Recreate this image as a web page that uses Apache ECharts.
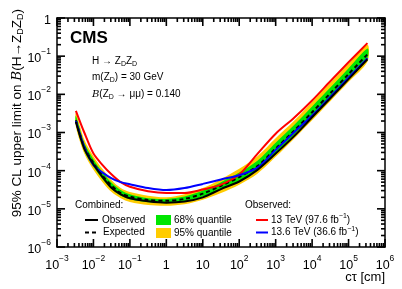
<!DOCTYPE html>
<html><head><meta charset="utf-8">
<script src="https://cdn.jsdelivr.net/npm/echarts@6/dist/echarts.min.js"></script>
<style>html,body{margin:0;padding:0;background:#fff}#c{width:402px;height:289px}</style>
</head><body><div id="c"></div>
<script>
// c tau [cm] sample positions
const ctau = [0.0033, 0.0056, 0.01, 0.0178, 0.0316, 0.056, 0.1, 0.316, 1, 3.16, 10, 31.6, 100, 316, 1000, 3160, 1e4, 3.16e4, 1e5, 3.3e5];
// Observed combined (solid black)
const observed = [1.9e-3, 3.8e-4, 1.48e-4, 6.8e-5, 3.5e-5, 2.4e-5, 1.9e-5, 1.58e-5, 1.45e-5, 1.55e-5, 2.0e-5, 3.3e-5, 5.2e-5, 1.05e-4, 2.8e-4, 7.9e-4, 2.5e-3, 7.9e-3, 2.5e-2, 8.3e-2];
// Expected combined (dashed black)
const expected = [2.1e-3, 4.2e-4, 1.58e-4, 7.4e-5, 4.0e-5, 2.6e-5, 2.1e-5, 1.7e-5, 1.62e-5, 1.82e-5, 2.5e-5, 4.0e-5, 6.8e-5, 1.32e-4, 3.8e-4, 1.1e-3, 3.4e-3, 1.07e-2, 3.4e-2, 0.112];
// 68% quantile band
const band68Up = [2.7e-3, 5.4e-4, 2.0e-4, 9.1e-5, 4.8e-5, 3.1e-5, 2.4e-5, 1.9e-5, 1.82e-5, 2.1e-5, 3.0e-5, 5.0e-5, 8.9e-5, 1.82e-4, 5.4e-4, 1.55e-3, 4.8e-3, 1.5e-2, 4.8e-2, 0.158];
const band68Lo = [1.66e-3, 3.3e-4, 1.26e-4, 6.0e-5, 3.3e-5, 2.2e-5, 1.78e-5, 1.48e-5, 1.41e-5, 1.55e-5, 2.1e-5, 3.2e-5, 5.2e-5, 1.02e-4, 2.9e-4, 8.5e-4, 2.7e-3, 8.5e-3, 2.7e-2, 8.9e-2];
// 95% quantile band
const band95Up = [3.2e-3, 6.6e-4, 2.4e-4, 1.1e-4, 5.6e-5, 3.5e-5, 2.75e-5, 2.2e-5, 2.0e-5, 2.4e-5, 3.5e-5, 6.0e-5, 1.12e-4, 2.4e-4, 7.1e-4, 2.0e-3, 6.3e-3, 2.0e-2, 6.3e-2, 0.2];
const band95Lo = [1.41e-3, 2.8e-4, 1.05e-4, 5.0e-5, 2.75e-5, 1.9e-5, 1.51e-5, 1.26e-5, 1.2e-5, 1.32e-5, 1.74e-5, 2.6e-5, 4.3e-5, 8.3e-5, 2.3e-4, 6.8e-4, 2.1e-3, 6.6e-3, 2.1e-2, 7.1e-2];
// Observed 13 TeV (red)
const obs13 = [3.7e-3, 1.0e-3, 2.8e-4, 1.4e-4, 7.9e-5, 5.0e-5, 3.8e-5, 2.9e-5, 2.6e-5, 2.6e-5, 3.2e-5, 4.3e-5, 7.9e-5, 2.75e-4, 9.3e-4, 2.4e-3, 6.9e-3, 2.2e-2, 6.9e-2, 0.22];
// Observed 13.6 TeV (blue)
const obs136 = [2.0e-3, 4.2e-4, 1.4e-4, 8.9e-5, 6.3e-5, 5.0e-5, 4.4e-5, 3.5e-5, 3.1e-5, 3.5e-5, 4.5e-5, 5.9e-5, 7.6e-5, 1.2e-4, 3.5e-4, 1.0e-3, 2.8e-3, 8.7e-3, 2.75e-2, 8.9e-2];

const xTickExp = [-3, -2, -1, 0, 1, 2, 3, 4, 5, 6];
const yTickExp = [-6, -5, -4, -3, -2, -1, 0];

const FONT = 'Liberation Sans, Arial, sans-serif';
const pairs = (ys) => ctau.map((x, i) => [x, ys[i]]);

function expLabel(v) {
  const e = Math.round(Math.log10(v));
  if (e === 0) return '{b|1}';
  if (e === 1) return '{b|10}';
  return '{b|10}{s|' + (e < 0 ? '\u2212' + (-e) : e) + '}';
}
const labelRich = {
  b: { fontSize: 12.5, lineHeight: 18, verticalAlign: 'bottom', fontFamily: FONT, color: '#000' },
  s: { fontSize: 8.5, lineHeight: 11, verticalAlign: 'top', fontFamily: FONT, color: '#000' }
};

// tick positions on the log axes (decoration only)
const majorX = xTickExp.map(e => Math.pow(10, e));
const majorY = yTickExp.map(e => Math.pow(10, e));
const minorX = [], minorY = [];
for (let e = -3; e < 6; e++) for (let m = 2; m <= 9; m++) minorX.push(m * Math.pow(10, e));
for (let e = -6; e < 0; e++) for (let m = 2; m <= 9; m++) minorY.push(m * Math.pow(10, e));

function tickScatter(points, size, offset) {
  return {
    type: 'scatter', data: points, symbol: 'rect', symbolSize: size, symbolOffset: offset,
    itemStyle: { color: '#000', opacity: 1 }, silent: true, clip: false, z: 20,
    emphasis: { disabled: true }, animation: false
  };
}

function bandSeries(up, lo, color) {
  return {
    type: 'custom', z: 1, silent: true, clip: true,
    data: [[1, 1e-3]],
    renderItem: (params, api) => {
      const pts = [];
      for (let i = 0; i < ctau.length; i++) pts.push(api.coord([ctau[i], up[i]]));
      for (let i = ctau.length - 1; i >= 0; i--) pts.push(api.coord([ctau[i], lo[i]]));
      return { type: 'polygon', shape: { points: pts, smooth: 0.3 }, style: { fill: color } };
    }
  };
}

function lineSeries(data, color, dashed, z) {
  return {
    type: 'line', data: pairs(data), showSymbol: false, smooth: 0.3, z: z, silent: true,
    lineStyle: { color: color, width: 2, type: dashed ? [4, 3] : 'solid' }
  };
}

const axisCommon = {
  type: 'log', logBase: 10,
  axisLine: { show: true, lineStyle: { color: '#000', width: 1.5 } },
  axisTick: { show: false },
  splitLine: { show: false }
};

const TW = 1.6; // tick thickness
const chart = echarts.init(document.getElementById('c'), null, { renderer: 'canvas' });
chart.setOption({
  animation: false,
  backgroundColor: '#fff',
  grid: { left: 57, right: 17, top: 18, bottom: 42, containLabel: false },
  xAxis: [
    Object.assign({}, axisCommon, { position: 'bottom', min: 1e-3, max: 1e6,
      axisLabel: { formatter: expLabel, rich: labelRich, margin: 7 } }),
    Object.assign({}, axisCommon, { position: 'top', min: 1e-3, max: 1e6, axisLabel: { show: false } })
  ],
  yAxis: [
    Object.assign({}, axisCommon, { position: 'left', min: 1e-6, max: 1,
      axisLabel: { formatter: expLabel, rich: labelRich, margin: 6 } }),
    Object.assign({}, axisCommon, { position: 'right', min: 1e-6, max: 1, axisLabel: { show: false } })
  ],
  series: [
    bandSeries(band95Up, band95Lo, '#ffcc00'),
    bandSeries(band68Up, band68Lo, '#00e600'),
    lineSeries(expected, '#000', true, 3),
    lineSeries(obs13, '#ff0000', false, 4),
    lineSeries(obs136, '#0000ff', false, 5),
    lineSeries(observed, '#000', false, 6),
    // ticks along the four frame sides
    tickScatter(minorX.map(v => [v, 1e-6]), [TW, 4], [0, -2]),
    tickScatter(majorX.map(v => [v, 1e-6]), [TW, 8], [0, -4]),
    tickScatter(minorX.map(v => [v, 1]), [TW, 4], [0, 2]),
    tickScatter(majorX.map(v => [v, 1]), [TW, 8], [0, 4]),
    tickScatter(minorY.map(v => [1e-3, v]), [4, TW], [2, 0]),
    tickScatter(majorY.map(v => [1e-3, v]), [8, TW], [4, 0]),
    tickScatter(minorY.map(v => [1e6, v]), [4, TW], [-2, 0]),
    tickScatter(majorY.map(v => [1e6, v]), [8, TW], [-4, 0])
  ],
  graphic: [
    { type: 'text', x: 70, y: 30, style: { text: 'CMS', font: 'bold 17px ' + FONT, fill: '#000' } },
    { type: 'text', x: 92, y: 61, style: { text: 'H \u2192 Z{d|D}Z{d|D}', verticalAlign: 'middle', fill: '#000',
      rich: { d: { fontSize: 7, lineHeight: 9, verticalAlign: 'bottom', fontFamily: FONT } }, fontSize: 10, lineHeight: 14, fontFamily: FONT } },
    { type: 'text', x: 92, y: 77, style: { text: 'm(Z{d|D}) = 30 GeV', verticalAlign: 'middle', fill: '#000',
      rich: { d: { fontSize: 7, lineHeight: 9, verticalAlign: 'bottom', fontFamily: FONT } }, fontSize: 10, lineHeight: 14, fontFamily: FONT } },
    { type: 'text', x: 92, y: 94, style: { text: '{B|B}(Z{d|D} \u2192 \u03bc\u03bc) = 0.140', verticalAlign: 'middle', fill: '#000',
      rich: { d: { fontSize: 7, lineHeight: 9, verticalAlign: 'bottom', fontFamily: FONT },
              B: { fontSize: 10, fontStyle: 'italic', fontFamily: 'DejaVu Serif, serif' } }, fontSize: 10, lineHeight: 14, fontFamily: FONT } },
    // y axis title
    { type: 'text', x: 17, y: 9, rotation: Math.PI / 2, style: {
      text: '95% CL upper limit on {B|B}(H\u2192Z{d|D}Z{d|D})', align: 'right', verticalAlign: 'middle', fill: '#000',
      fontSize: 13.5, lineHeight: 17, fontFamily: FONT,
      rich: { d: { fontSize: 9, lineHeight: 11, verticalAlign: 'bottom', fontFamily: FONT },
              B: { fontSize: 13.5, fontStyle: 'italic', fontFamily: 'DejaVu Serif, serif' } } } },
    // x axis title
    { type: 'text', x: 385, y: 277, style: { text: 'c\u03c4 [cm]', align: 'right', verticalAlign: 'middle', fontSize: 13, fontFamily: FONT, fill: '#000' } },
    // legend
    { type: 'text', x: 75, y: 205, style: { text: 'Combined:', verticalAlign: 'middle', fontSize: 10, fontFamily: FONT, fill: '#000' } },
    { type: 'line', shape: { x1: 85, y1: 220, x2: 98, y2: 220 }, style: { stroke: '#000', lineWidth: 2 } },
    { type: 'text', x: 102, y: 220, style: { text: 'Observed', verticalAlign: 'middle', fontSize: 10, fontFamily: FONT, fill: '#000' } },
    { type: 'line', shape: { x1: 85, y1: 232.5, x2: 98, y2: 232.5 }, style: { stroke: '#000', lineWidth: 2, lineDash: [4, 3] } },
    { type: 'text', x: 103, y: 232.5, style: { text: 'Expected', verticalAlign: 'middle', fontSize: 10, fontFamily: FONT, fill: '#000' } },
    { type: 'rect', shape: { x: 156, y: 215, width: 15, height: 10 }, style: { fill: '#00e600' } },
    { type: 'text', x: 174, y: 220, style: { text: '68% quantile', verticalAlign: 'middle', fontSize: 10, fontFamily: FONT, fill: '#000' } },
    { type: 'rect', shape: { x: 156, y: 228, width: 15, height: 10 }, style: { fill: '#ffcc00' } },
    { type: 'text', x: 174, y: 233, style: { text: '95% quantile', verticalAlign: 'middle', fontSize: 10, fontFamily: FONT, fill: '#000' } },
    { type: 'text', x: 245, y: 205, style: { text: 'Observed:', verticalAlign: 'middle', fontSize: 10, fontFamily: FONT, fill: '#000' } },
    { type: 'line', shape: { x1: 256, y1: 220, x2: 268, y2: 220 }, style: { stroke: '#ff0000', lineWidth: 2 } },
    { type: 'text', x: 271, y: 220, style: { text: '13 TeV (97.6 fb{u|\u22121})', verticalAlign: 'middle', fontSize: 10, lineHeight: 14, fontFamily: FONT, fill: '#000',
      rich: { u: { fontSize: 7, lineHeight: 8, verticalAlign: 'top', fontFamily: FONT } } } },
    { type: 'line', shape: { x1: 256, y1: 232.5, x2: 268, y2: 232.5 }, style: { stroke: '#0000ff', lineWidth: 2 } },
    { type: 'text', x: 271, y: 232.5, style: { text: '13.6 TeV (36.6 fb{u|\u22121})', verticalAlign: 'middle', fontSize: 10, lineHeight: 14, fontFamily: FONT, fill: '#000',
      rich: { u: { fontSize: 7, lineHeight: 8, verticalAlign: 'top', fontFamily: FONT } } } }
  ]
});
</script>
</body></html>
